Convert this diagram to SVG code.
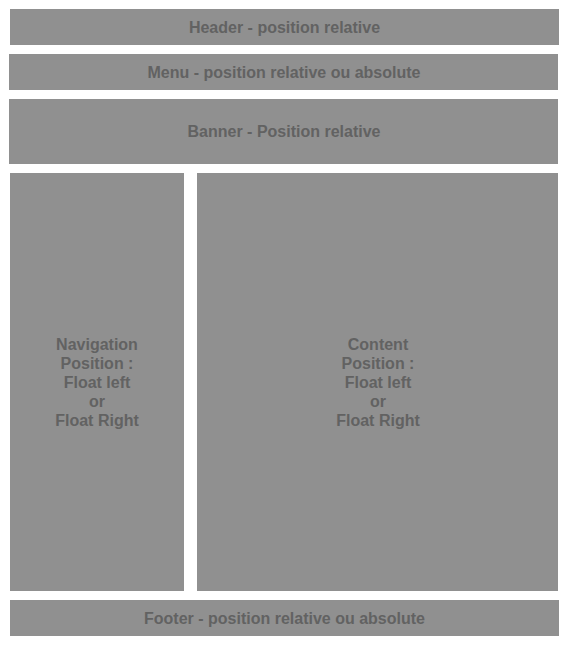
<svg xmlns="http://www.w3.org/2000/svg" width="568" height="645" viewBox="0 0 568 645">
<style>
.box{fill:#909090}
.lbl{font-family:"Liberation Sans",Arial,sans-serif;font-weight:bold;font-size:16px;fill:#626262;text-anchor:middle}
</style>
<rect width="568" height="645" fill="#ffffff"/>
<g id="header"><rect class="box" x="10" y="9" width="549" height="36"/><text class="lbl" x="284.5" y="33">Header - position relative</text></g>
<g id="menu"><rect class="box" x="9" y="54" width="549" height="36"/><text class="lbl" x="284" y="78">Menu - position relative ou absolute</text></g>
<g id="banner"><rect class="box" x="9" y="99" width="549" height="65"/><text class="lbl" x="284" y="137">Banner - Position relative</text></g>
<g id="navigation"><rect class="box" x="10" y="173" width="174" height="418"/>
<text class="lbl" x="97" y="350">Navigation</text><text class="lbl" x="97" y="369">Position :</text><text class="lbl" x="97" y="388">Float left</text><text class="lbl" x="97" y="407">or</text><text class="lbl" x="97" y="426">Float Right</text></g>
<g id="content"><rect class="box" x="197" y="173" width="361" height="418"/>
<text class="lbl" x="378" y="350">Content</text><text class="lbl" x="378" y="369">Position :</text><text class="lbl" x="378" y="388">Float left</text><text class="lbl" x="378" y="407">or</text><text class="lbl" x="378" y="426">Float Right</text></g>
<g id="footer"><rect class="box" x="10" y="600" width="549" height="36"/><text class="lbl" x="284.5" y="624">Footer - position relative ou absolute</text></g>
<g id="connectors"/>
</svg>
